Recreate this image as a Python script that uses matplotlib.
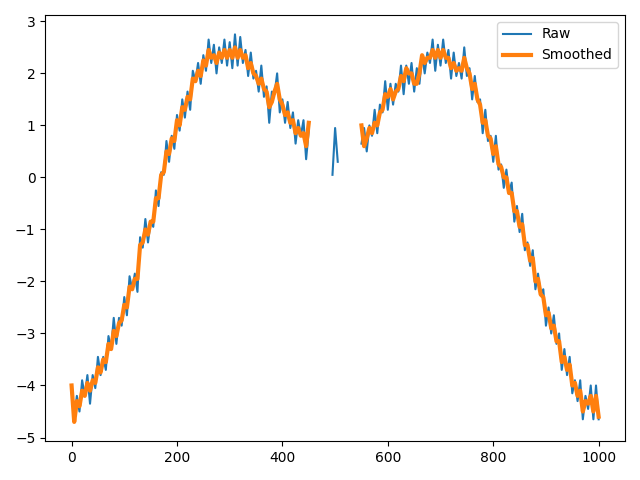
import numpy as np
import matplotlib
matplotlib.use("Agg")
import matplotlib.pyplot as plt

# sample positions: every 5 units from 0 to 1000
x = np.arange(0, 1001, 5)

raw_left = [
    -4.10, -4.65, -4.20, -4.50, -3.90, -4.20, -3.80, -4.35, -3.80, -4.05,
    -3.45, -3.80, -3.45, -3.70, -3.05, -3.30, -2.70, -3.20, -2.70, -2.85,
    -2.30, -2.65, -1.90, -2.15, -1.85, -2.20, -1.15, -1.35, -0.80, -1.25,
    -0.85, -0.95, -0.25, -0.55, 0.10, 0.05, 0.70, 0.30, 0.80, 0.55,
    1.20, 0.90, 1.50, 1.15, 1.65, 1.30, 2.05, 1.85, 2.20, 1.80,
    2.35, 2.05, 2.65, 2.20, 2.55, 2.00, 2.50, 2.20, 2.65, 2.15,
    2.60, 2.10, 2.75, 2.15, 2.70, 2.20, 2.45, 1.95, 2.40, 1.90,
    2.05, 1.65, 2.15, 1.55, 1.75, 1.05, 1.65, 1.60, 2.00, 1.25,
    1.50, 1.05, 1.45, 0.95, 1.25, 0.65, 1.10, 0.80, 1.10, 0.35,
    0.90,
]
raw_mid = [0.05, 0.95, 0.30]  # x = 495, 500, 505
raw_right = [
    0.65, 0.95, 0.50, 1.00, 0.80, 1.30, 0.85, 1.40, 1.25, 1.85,
    1.30, 1.80, 1.40, 1.80, 1.65, 2.15, 1.60, 2.15, 1.80, 2.20,
    1.65, 2.10, 1.80, 2.35, 2.00, 2.40, 2.20, 2.65, 2.05, 2.55,
    2.15, 2.65, 2.20, 2.45, 1.90, 2.40, 1.95, 2.20, 1.90, 2.50,
    1.95, 2.10, 1.50, 1.95, 1.45, 1.50, 0.85, 1.30, 0.70, 0.80,
    0.30, 0.80, 0.15, 0.25, -0.20, 0.15, -0.30, -0.10, -0.85, -0.55,
    -1.05, -0.70, -1.40, -1.25, -1.70, -1.40, -2.15, -1.85, -2.25, -2.15,
    -2.85, -2.50, -3.00, -2.65, -3.20, -3.00, -3.70, -3.30, -3.80, -3.45,
    -4.15, -3.90, -4.30, -3.90, -4.65, -4.20, -4.45, -4.00, -4.65, -4.00,
    -4.65,
]

smooth_left = [
    -4.00, -4.70, -4.30, -4.40, -4.10, -4.20, -3.95, -4.10, -3.90, -3.95,
    -3.65, -3.75, -3.50, -3.55, -3.20, -3.30, -2.95, -3.05, -2.80, -2.75,
    -2.45, -2.50, -2.10, -2.15, -1.95, -1.95, -1.30, -1.25, -1.00, -1.10,
    -0.85, -0.85, -0.40, -0.40, 0.05, 0.10, 0.50, 0.45, 0.75, 0.70,
    1.10, 1.00, 1.35, 1.30, 1.55, 1.50, 1.90, 1.85, 2.05, 1.95,
    2.25, 2.15, 2.45, 2.30, 2.35, 2.20, 2.40, 2.30, 2.45, 2.30,
    2.45, 2.30, 2.50, 2.30, 2.45, 2.30, 2.35, 2.10, 2.20, 2.00,
    1.95, 1.80, 1.90, 1.70, 1.65, 1.35, 1.45, 1.65, 1.80, 1.50,
    1.40, 1.20, 1.25, 1.05, 1.10, 0.85, 0.95, 0.80, 0.85, 0.60,
    1.05,
]
smooth_right = [
    1.00, 0.60, 0.75, 0.95, 0.85, 1.05, 1.00, 1.25, 1.30, 1.60,
    1.55, 1.70, 1.50, 1.65, 1.70, 1.95, 1.85, 2.10, 2.00, 2.00,
    1.80, 1.80, 2.00, 2.35, 2.20, 2.30, 2.30, 2.45, 2.30, 2.45,
    2.30, 2.45, 2.30, 2.30, 2.10, 2.20, 2.05, 2.10, 2.05, 2.30,
    2.10, 2.00, 1.70, 1.80, 1.50, 1.40, 1.05, 1.10, 0.80, 0.75,
    0.45, 0.60, 0.25, 0.20, 0.00, 0.00, -0.30, -0.30, -0.65, -0.65,
    -0.95, -0.90, -1.30, -1.30, -1.60, -1.55, -2.00, -1.95, -2.25, -2.30,
    -2.65, -2.60, -2.90, -2.85, -3.15, -3.15, -3.55, -3.45, -3.70, -3.60,
    -4.00, -3.95, -4.20, -4.10, -4.50, -4.30, -4.35, -4.20, -4.50, -4.20,
    -4.60,
]

gap8 = [np.nan] * 8
raw = np.array(raw_left + gap8 + raw_mid + gap8 + raw_right)
smoothed = np.array(smooth_left + [np.nan] * 19 + smooth_right)

fig, ax = plt.subplots(figsize=(6.4, 4.8), dpi=100)
ax.plot(x, raw, label="Raw")
ax.plot(x, smoothed, linewidth=3, label="Smoothed")
ax.legend(loc="upper right")
fig.tight_layout()
fig.savefig("out.png")
